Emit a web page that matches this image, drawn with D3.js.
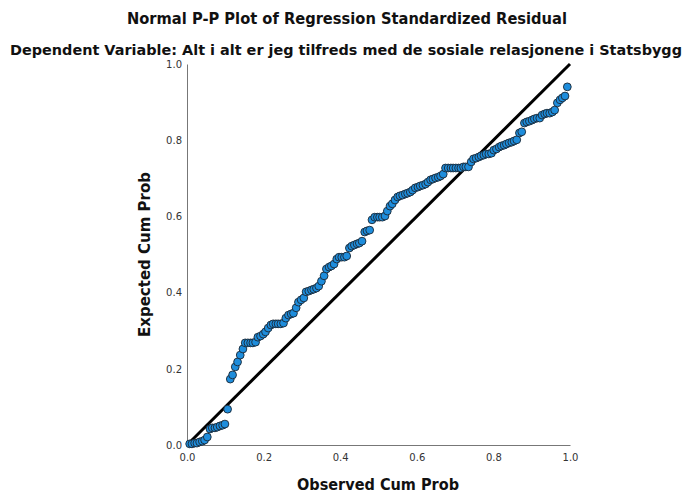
<!DOCTYPE html>
<html><head><meta charset="utf-8">
<script src="https://cdn.jsdelivr.net/npm/d3@7/dist/d3.min.js"></script>
<style>body{margin:0;background:#fff}</style>
</head><body>
<svg id="c" width="689" height="495"></svg>
<script>
const title1 = "Normal P-P Plot of Regression Standardized Residual";
const title2 = "Dependent Variable: Alt i alt er jeg tilfreds med de sosiale relasjonene i Statsbygg";
const xLabel = "Observed Cum Prob";
const yLabel = "Expected Cum Prob";
const tickValues = [0.0, 0.2, 0.4, 0.6, 0.8, 1.0];
const refLine = [[0, 0], [1, 1]];

const observed = [
.007,.013,.020,.026,.033,.040,.046,.053,.060,.066,
.073,.079,.086,.093,.099,.106,.113,.119,.126,.132,
.139,.146,.152,.159,.166,.172,.179,.185,.192,.199,
.205,.212,.219,.225,.232,.238,.245,.252,.258,.265,
.272,.278,.285,.291,.298,.305,.311,.318,.325,.331,
.338,.344,.351,.358,.364,.371,.377,.384,.391,.397,
.404,.411,.417,.424,.430,.437,.444,.450,.457,.464,
.470,.477,.483,.490,.497,.503,.510,.517,.523,.530,
.536,.543,.550,.556,.563,.570,.576,.583,.589,.596,
.603,.609,.616,.623,.629,.636,.642,.649,.656,.662,
.669,.675,.682,.689,.695,.702,.709,.715,.722,.728,
.735,.742,.748,.755,.762,.768,.775,.781,.788,.795,
.801,.808,.815,.821,.828,.834,.841,.848,.854,.861,
.868,.874,.881,.887,.894,.901,.907,.914,.921,.927,
.934,.940,.947,.954,.960,.967,.974,.980,.987,.993];

const expected = [
.003,.003,.005,.005,.008,.010,.013,.021,.042,.045,
.045,.047,.050,.052,.055,.094,.173,.184,.205,.218,
.236,.252,.268,.268,.268,.268,.270,.283,.286,.291,
.297,.307,.315,.318,.318,.318,.318,.320,.333,.341,
.344,.346,.360,.375,.381,.386,.402,.404,.407,.409,
.412,.417,.430,.444,.462,.467,.470,.475,.488,.493,
.493,.493,.496,.517,.522,.525,.528,.530,.535,.559,
.562,.564,.591,.598,.598,.598,.598,.601,.614,.627,
.633,.643,.651,.654,.656,.659,.661,.664,.669,.675,
.677,.680,.682,.685,.690,.696,.698,.701,.703,.706,
.711,.727,.727,.727,.727,.727,.727,.727,.730,.730,
.730,.743,.751,.753,.756,.759,.761,.764,.764,.766,
.774,.777,.782,.785,.787,.790,.793,.795,.798,.801,
.819,.822,.845,.848,.850,.853,.856,.858,.858,.866,
.869,.871,.871,.874,.879,.898,.906,.911,.916,.940];

const svg = d3.select("#c");
const font = "'DejaVu Sans', sans-serif";
const L = 187, R = 570, T = 64, B = 445;
const x = d3.scaleLinear().domain([0, 1]).range([L, R]);
const y = d3.scaleLinear().domain([0, 1]).range([B, T]);

svg.append("text").attr("x", 347).attr("y", 24).attr("text-anchor", "middle")
  .attr("font-family", font).attr("font-weight", "bold").attr("font-size", 15)
  .attr("textLength", 440).attr("lengthAdjust", "spacingAndGlyphs").attr("fill", "#111").text(title1);
svg.append("text").attr("x", 346).attr("y", 55).attr("text-anchor", "middle")
  .attr("font-family", font).attr("font-weight", "bold").attr("font-size", 14)
  .attr("textLength", 672).attr("lengthAdjust", "spacingAndGlyphs").attr("fill", "#111").text(title2);

const xAxis = svg.append("g").attr("transform", `translate(0,${B})`)
  .call(d3.axisBottom(x).tickValues(tickValues).tickFormat(d3.format(".1f")).tickSize(0).tickPadding(9));
const yAxis = svg.append("g").attr("transform", `translate(${L},0)`)
  .call(d3.axisLeft(y).tickValues(tickValues).tickFormat(d3.format(".1f")).tickSize(0).tickPadding(5));
[xAxis, yAxis].forEach(g => {
  g.select(".domain").attr("stroke", "#777").attr("stroke-width", 1);
  g.selectAll("text").attr("font-family", font).attr("font-size", 10).attr("fill", "#333");
});

svg.append("text").attr("x", 378).attr("y", 490).attr("text-anchor", "middle")
  .attr("font-family", font).attr("font-weight", "bold").attr("font-size", 15)
  .attr("textLength", 162).attr("lengthAdjust", "spacingAndGlyphs").attr("fill", "#111").text(xLabel);
svg.append("text").attr("transform", `translate(150,${(T + B) / 2}) rotate(-90)`).attr("text-anchor", "middle")
  .attr("font-family", font).attr("font-weight", "bold").attr("font-size", 15)
  .attr("textLength", 165).attr("lengthAdjust", "spacingAndGlyphs").attr("fill", "#111").text(yLabel);

svg.append("line")
  .attr("x1", x(refLine[0][0])).attr("y1", y(refLine[0][1]))
  .attr("x2", x(refLine[1][0])).attr("y2", y(refLine[1][1]))
  .attr("stroke", "#000").attr("stroke-width", 3);

svg.append("g").selectAll("circle").data(observed).join("circle")
  .attr("cx", d => x(d)).attr("cy", (d, i) => y(expected[i])).attr("r", 3.9)
  .attr("fill", "#1e8ddc").attr("stroke", "#1b2733").attr("stroke-width", 0.9);
</script>
</body></html>
